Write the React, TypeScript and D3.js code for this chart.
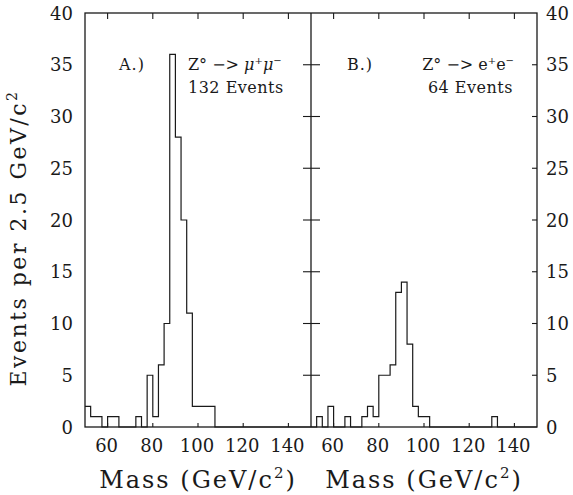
import React from 'react';
import * as d3 from 'd3';

// histogram counts, 2.5 GeV bins starting at 50 GeV
const binStart = 50;
const binWidth = 2.5;
const muCounts = [2, 1, 1, 0, 1, 1, 0, 0, 0, 1, 0, 5, 1, 6, 10, 36, 28, 20, 11, 2, 2, 2, 2,
  0, 0, 0, 0, 0, 0, 0, 0, 0, 0, 0, 0, 0, 0, 0, 0, 0];
const eeCounts = [0, 1, 0, 2, 0, 0, 1, 0, 0, 1, 2, 1, 5, 5, 6, 13, 14, 8, 2, 1, 1,
  0, 0, 0, 0, 0, 0, 0, 0, 0, 0, 0, 1, 0, 0, 0, 0, 0, 0, 0];
const xTicks = [60, 80, 100, 120, 140];
const yTicks = [0, 5, 10, 15, 20, 25, 30, 35, 40];

const W = 573;
const H = 495;
const FONT = '"DejaVu Serif", serif';
const INK = '#1a1a1a';

const y = d3.scaleLinear().domain([0, 40]).range([427, 13]);

function Panel({ x0, x1, counts, right }: { x0: number; x1: number; counts: number[]; right: boolean }) {
  const x = d3.scaleLinear().domain([50, 150]).range([x0, x1]);
  const pts: [number, number][] = counts.map((c, i) => [binStart + i * binWidth, c]);
  pts.push([150, 0]);
  const line = d3.line<[number, number]>()
    .x(d => x(d[0]))
    .y(d => y(d[1]))
    .curve(d3.curveStepAfter);
  return <g>
    <path d={line(pts) || ''} fill="none" stroke={INK} strokeWidth={1.2} />
    {xTicks.map(t => <g key={t}>
      <line x1={x(t)} x2={x(t)} y1={y(40)} y2={y(40) + 6} stroke={INK} strokeWidth={1.1} />
      <line x1={x(t)} x2={x(t)} y1={y(0)} y2={y(0) - 4} stroke={INK} strokeWidth={1.1} />
      <text x={x(t) - 1} y={452} textAnchor="middle" fontSize={18} fontFamily={FONT} fill={INK}>{t}</text>
    </g>)}
    {right && yTicks.filter(t => t > 0 && t < 40).map(t =>
      <line key={t} x1={x1 - 5} x2={x1} y1={y(t)} y2={y(t)} stroke={INK} strokeWidth={1.1} />)}
    <text x={(x0 + x1) / 2} y={488} textAnchor="middle" fontSize={24} letterSpacing={2}
      fontFamily={FONT} fill={INK}>
      Mass (GeV/c<tspan dy={-10} fontSize={15}>2</tspan><tspan dy={10}>)</tspan>
    </text>
  </g>;
}

export default function App() {
  const left = { x0: 85, x1: 311 };
  const rightP = { x0: 311, x1: 537 };
  return <svg width={W} height={H} style={{ display: 'block', position: 'absolute', left: 0, top: 0, background: '#fff' }}>
    <rect x={left.x0} y={y(40)} width={rightP.x1 - left.x0} height={y(0) - y(40)}
      fill="none" stroke={INK} strokeWidth={1.3} />
    <line x1={311} x2={311} y1={y(40)} y2={y(0)} stroke={INK} strokeWidth={1.3} />
    {yTicks.filter(t => t > 0 && t < 40).map(t =>
      <line key={t} x1={303} x2={320} y1={y(t)} y2={y(t)} stroke={INK} strokeWidth={1.1} />)}
    <Panel {...left} counts={muCounts} right={false} />
    <Panel {...rightP} counts={eeCounts} right={true} />
    {yTicks.map(t => <g key={t}>
      <text x={73} y={y(t) + 6.5} textAnchor="end" fontSize={18} fontFamily={FONT} fill={INK}>{t}</text>
      <text x={546} y={y(t) + 6.5} textAnchor="start" fontSize={18} fontFamily={FONT} fill={INK}>{t}</text>
    </g>)}
    <text transform="translate(26,238) rotate(-90)" textAnchor="middle" fontSize={22} letterSpacing={2.5}
      fontFamily={FONT} fill={INK}>
      Events per 2.5 GeV/c<tspan dy={-9} fontSize={14}>2</tspan>
    </text>
    <g fontFamily={FONT} fill={INK} fontSize={16}>
      <text x={119} y={70} letterSpacing={1}>A.)</text>
      <text x={188} y={70}>Z° −&gt; <tspan fontStyle="italic">μ</tspan><tspan dy={-6} fontSize={10}>+</tspan><tspan dy={6} fontStyle="italic">μ</tspan><tspan dy={-6} fontSize={10}>−</tspan></text>
      <text x={188} y={93} letterSpacing={0.5}>132 Events</text>
      <text x={347} y={70} letterSpacing={1}>B.)</text>
      <text x={514} y={70} textAnchor="end">Z° −&gt; e<tspan dy={-6} fontSize={10}>+</tspan><tspan dy={6}>e</tspan><tspan dy={-6} fontSize={10}>−</tspan></text>
      <text x={513} y={93} textAnchor="end" letterSpacing={0.5}>64 Events</text>
    </g>
  </svg>;
}
